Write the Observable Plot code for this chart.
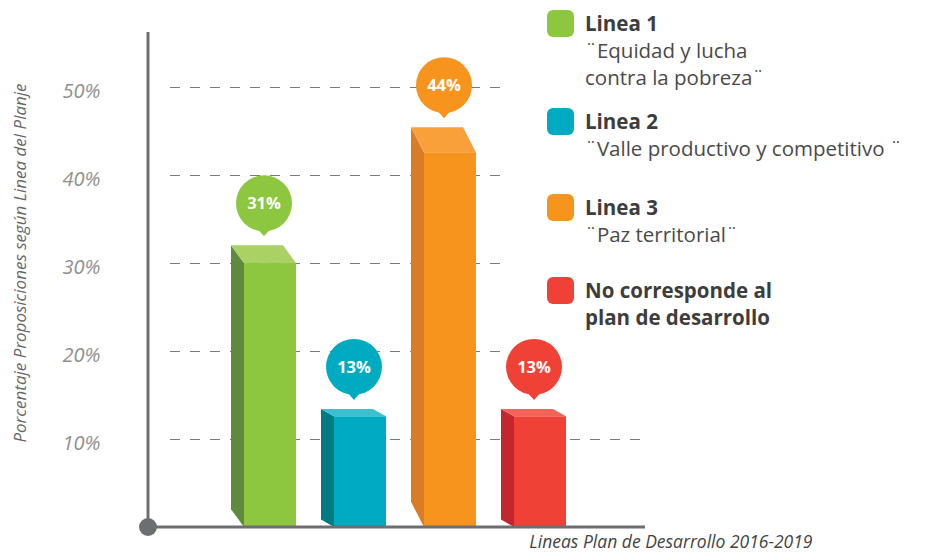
<!DOCTYPE html>
<html><head><meta charset="utf-8">
<script src="https://cdn.jsdelivr.net/npm/d3@7"></script>
<script src="https://cdn.jsdelivr.net/npm/@observablehq/plot@0.6"></script>
<style>
body{margin:0;background:#fff;}
#chart svg{display:block;}
#chart g[aria-label="y-axis tick label"] text{font-style:italic;}
</style></head><body><div id="chart"></div>
<script>
const categories = ["Linea 1", "Linea 2", "Linea 3", "No corresponde"];
const values = [31, 13, 44, 13];
const valueLabels = ["31%", "13%", "44%", "13%"];
const frontColors = ["#8dc63f", "#00abc2", "#f7941d", "#ef4136"];
const sideColors = ["#5f8a3b", "#007b83", "#d97c27", "#c1272d"];
const topColors = ["#a9d163", "#3cc0d0", "#f9a03a", "#f26459"];
const yTicks = [10, 20, 30, 40, 50];
const yLabel = "Porcentaje Proposiciones según Linea del Planje";
const xLabel = "Lineas Plan de Desarrollo 2016-2019";
const legendTitles = [["Linea 1"], ["Linea 2"], ["Linea 3"], ["No corresponde al", "plan de desarrollo"]];
const legendSubtitles = [["¨Equidad y lucha", "contra la pobreza¨"], ["¨Valle productivo y competitivo ¨"], ["¨Paz territorial¨"], []];

const data = categories.map((cat, i) => ({cat, value: values[i], label: valueLabels[i], front: frontColors[i], side: sideColors[i], top: topColors[i]}));

const FONT = "'Open Sans', sans-serif";
const AXIS = "#6d6e71";

function bars3d(index, scales, vals, dim) {
  const {x, y} = scales;
  const bw = typeof x.bandwidth === "function" ? x.bandwidth() : x.bandwidth;
  const g = d3.create("svg:g");
  const y0 = y(0);
  for (const d of data) {
    const x0 = x(d.cat), x1 = x0 + bw;
    const yv = y(d.value);
    const ddy = Math.max(5, 0.065 * (y0 - yv));
    const ddx = 13;
    const yt = yv + ddy / 2;
    g.append("path").attr("d", `M${x0},${yt}L${x0 - ddx},${yt - ddy}L${x0 - ddx},${y0 - ddy}L${x0},${y0}Z`).attr("fill", d.side);
    g.append("path").attr("d", `M${x0},${yt}L${x0 - ddx},${yt - ddy}L${x1 - ddx},${yt - ddy}L${x1},${yt}Z`).attr("fill", d.top);
    g.append("rect").attr("x", x0).attr("y", yt).attr("width", bw).attr("height", y0 - yt).attr("fill", d.front);
    const cx = (x0 + x1) / 2 - 6, cy = yt - ddy - 42, r = 28;
    g.append("path").attr("d", `M${cx - 8},${cy + r - 4}L${cx + 8},${cy + r - 4}L${cx},${cy + r + 5}Z`).attr("fill", d.front);
    g.append("circle").attr("cx", cx).attr("cy", cy).attr("r", r).attr("fill", d.front);
    g.append("text").attr("x", cx).attr("y", cy).attr("dy", "0.36em").attr("text-anchor", "middle")
      .attr("fill", "#fff").attr("font-weight", "bold").attr("font-size", 16.5).attr("font-family", FONT).text(d.label);
  }
  return g.node();
}

function axesLines(index, scales, vals, dim) {
  const {width, height, marginLeft, marginRight, marginTop, marginBottom} = dim;
  const g = d3.create("svg:g");
  const yb = height - marginBottom;
  g.append("line").attr("x1", marginLeft).attr("x2", marginLeft).attr("y1", marginTop).attr("y2", yb).attr("stroke", AXIS).attr("stroke-width", 3);
  g.append("line").attr("x1", marginLeft).attr("x2", width - marginRight).attr("y1", yb).attr("y2", yb).attr("stroke", AXIS).attr("stroke-width", 3);
  g.append("circle").attr("cx", marginLeft).attr("cy", yb).attr("r", 9).attr("fill", AXIS);
  return g.node();
}

function legend(index, scales, vals, dim) {
  const g = d3.create("svg:g").attr("font-family", FONT).attr("text-anchor", "start");
  const lx = 547, tops = [10, 108, 194, 277];
  legendTitles.forEach((titles, i) => {
    const t = tops[i];
    g.append("rect").attr("x", lx).attr("y", t).attr("width", 27).attr("height", 27).attr("rx", 6).attr("fill", frontColors[i]);
    let line = 0;
    for (const s of titles) {
      g.append("text").attr("x", lx + 38).attr("y", t + 21 + 27 * line).attr("text-anchor", "start").attr("font-weight", "bold").attr("font-size", 20.5).attr("fill", "#3d3d3d").text(s);
      line++;
    }
    for (const s of legendSubtitles[i]) {
      g.append("text").attr("x", lx + 38).attr("y", t + 21 + 27 * line).attr("text-anchor", "start").attr("font-size", 20.5).attr("fill", "#4a4a4a").text(s);
      line++;
    }
  });
  return g.node();
}

const chart = Plot.plot({
  width: 929,
  height: 556,
  marginLeft: 148,
  marginRight: 284,
  marginTop: 32,
  marginBottom: 29,
  style: {fontFamily: FONT, background: "#fff"},
  x: {type: "band", domain: categories, range: [206, 604], padding: 0.422, axis: null},
  y: {domain: [0, 56.25], axis: null},
  marks: [
    Plot.ruleY(yTicks.filter(d => d > 10), {stroke: "#7a7a7a", strokeWidth: 1.2, strokeDasharray: "10,10", insetLeft: 22, insetRight: 140}),
    Plot.ruleY(yTicks.filter(d => d <= 10), {stroke: "#7a7a7a", strokeWidth: 1.2, strokeDasharray: "10,10", insetLeft: 22}),
    Plot.barY(data, {x: "cat", y: "value", fillOpacity: 0}),
    bars3d,
    axesLines,
    Plot.axisY({ticks: yTicks, tickSize: 0, tickPadding: 48, tickFormat: d => d + "%", fontSize: 20, dy: 4, fill: "#8f8f8f", label: null}),
    Plot.text([yLabel], {frameAnchor: "left", textAnchor: "middle", rotate: -90, dx: -128, dy: -17, fontSize: 17, fontStyle: "italic", fill: "#666"}),
    Plot.text([xLabel], {frameAnchor: "bottom-right", textAnchor: "end", dx: 167, dy: 20, fontSize: 17.5, fontStyle: "italic", fill: "#444"}),
    legend
  ]
});
document.getElementById("chart").appendChild(chart);
</script></body></html>
